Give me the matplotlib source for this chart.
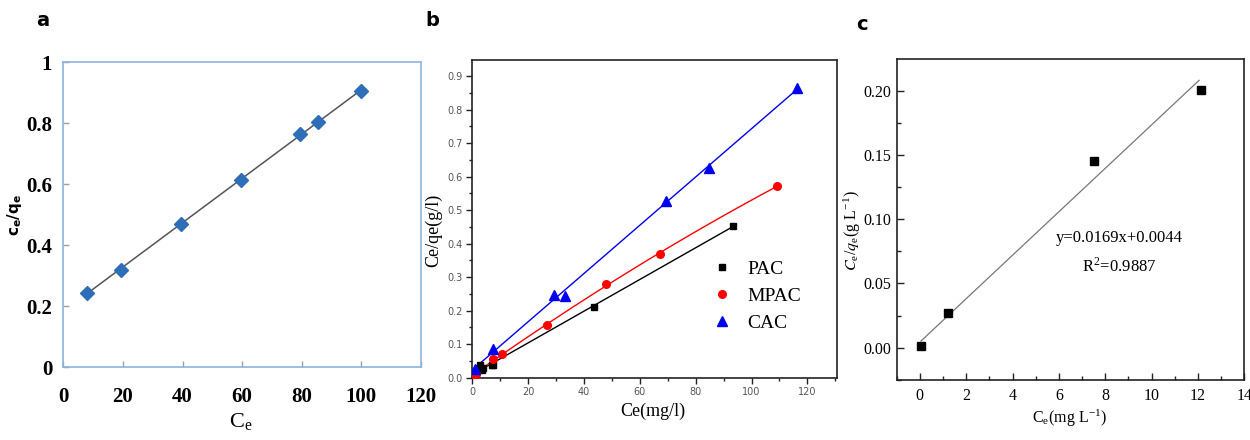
import numpy as np
import matplotlib
matplotlib.use("Agg")
import matplotlib.pyplot as plt
from matplotlib.lines import Line2D
from matplotlib.ticker import MultipleLocator, FormatStrFormatter

plt.rcParams["mathtext.fontset"] = "stix"

# ---------------- data ----------------
# panel a
a_ce = [8, 19.5, 39.5, 59.5, 79.5, 85.5, 100]
a_ratio = [0.245, 0.32, 0.47, 0.615, 0.765, 0.805, 0.905]
a_xticks = [0, 20, 40, 60, 80, 100, 120]
a_yticks = [0, 0.2, 0.4, 0.6, 0.8, 1.0]
a_yticklabels = ["0", "0.2", "0.4", "0.6", "0.8", "1"]

# panel b
b_series = ["PAC", "MPAC", "CAC"]
b_pac_x = [1.2, 2.8, 3.4, 4.0, 7.0, 7.6, 43.7, 93.5]
b_pac_y = [0.015, 0.038, 0.023, 0.028, 0.038, 0.038, 0.212, 0.454]
b_mpac_x = [0.4, 1.5, 7.5, 10.8, 26.7, 47.8, 67.3, 109.1]
b_mpac_y = [0.008, 0.012, 0.057, 0.071, 0.157, 0.279, 0.368, 0.572]
b_cac_x = [1.0, 7.5, 29.4, 33.2, 69.3, 84.6, 116.3]
b_cac_y = [0.026, 0.085, 0.246, 0.245, 0.527, 0.625, 0.864]
b_xticks = [0, 20, 40, 60, 80, 100, 120]
b_yticks = [0.0, 0.1, 0.2, 0.3, 0.4, 0.5, 0.6, 0.7, 0.8, 0.9]

# panel c
c_ce = [0.03, 1.23, 7.52, 12.12]
c_ratio = [0.0015, 0.0268, 0.145, 0.2005]
c_fit_slope = 0.0169
c_fit_intercept = 0.0044
c_fit_text = ["y=0.0169x+0.0044", "R$^\\mathregular{2}$=0.9887"]
c_xticks = [0, 2, 4, 6, 8, 10, 12, 14]
c_yticks = [0.00, 0.05, 0.10, 0.15, 0.20]

# ---------------- figure ----------------
W, H = 1250, 440
fig = plt.figure(figsize=(W / 100, H / 100), dpi=100)
SERIF = ["Liberation Serif", "DejaVu Serif"]


def fx(px):
    return px / W


def fy(py):
    return 1 - py / H


def add_axes(l, t, r, b):
    return fig.add_axes([fx(l), fy(b), fx(r) - fx(l), fy(t) - fy(b)])


# ---- panel a ----
axa = add_axes(63.3, 62, 421, 367.3)
axa.set_xlim(0, 120)
axa.set_ylim(0, 1)
for s in axa.spines.values():
    s.set_color("#8DB3E2")
    s.set_linewidth(1.2)
axa.set_xticks(a_xticks)
axa.set_yticks(a_yticks)
axa.set_yticklabels(a_yticklabels)
axa.tick_params(direction="in", length=4, color="#A0A0A0", width=1)
axa.tick_params(axis="x", pad=14)
axa.tick_params(axis="y", pad=8)
for lab in axa.get_xticklabels() + axa.get_yticklabels():
    lab.set_fontfamily(SERIF)
    lab.set_fontsize(15)
    lab.set_fontweight("bold")
pa = np.polyfit(a_ce, a_ratio, 1)
xa = np.array([min(a_ce), max(a_ce)])
axa.plot(xa, np.polyval(pa, xa), color="#555555", lw=1.1, zorder=2)
axa.plot(a_ce, a_ratio, "D", color="#2E6DB8", ms=7.5, zorder=3)
fig.text(fx(241), fy(421), r"C$_\mathregular{e}$", family=SERIF, fontsize=16,
         ha="center", va="center")
fig.text(fx(14), fy(215), r"$\mathbf{c_e/q_e}$", fontsize=11, rotation=90,
         ha="center", va="center", math_fontfamily="dejavusans")
fig.text(fx(43), fy(21), "a", fontsize=14, fontweight="bold", ha="center", va="center")

# ---- panel b ----
axb = add_axes(471.7, 60, 836.7, 377.7)
axb.set_xlim(-0.2, 130.5)
axb.set_ylim(0, 0.948)
for s in axb.spines.values():
    s.set_color("#222222")
    s.set_linewidth(1.2)
axb.set_xticks(b_xticks)
axb.set_yticks(b_yticks)
axb.yaxis.set_major_formatter(FormatStrFormatter("%.1f"))
axb.xaxis.set_minor_locator(MultipleLocator(10))
axb.yaxis.set_minor_locator(MultipleLocator(0.05))
axb.tick_params(which="major", direction="out", length=4.5, width=1, color="#222222",
                labelsize=7, labelcolor="#555555", pad=2)
axb.tick_params(which="minor", direction="out", length=2.5, width=1, color="#222222")
b_colors = ["black", "#FF0000", "#0000EE"]
b_markers = ["s", "o", "^"]
b_ms = [5, 5.5, 6.5]
b_deg = [1, 2, 1]
b_data = [(b_pac_x, b_pac_y), (b_mpac_x, b_mpac_y), (b_cac_x, b_cac_y)]
for (bx, by), col, mk, ms, dg in zip(b_data, b_colors, b_markers, b_ms, b_deg):
    p = np.polyfit(bx, by, dg)
    xx = np.linspace(0, max(bx), 60)
    axb.plot(xx, np.polyval(p, xx), color=col, lw=1.0, zorder=2)
    axb.plot(bx, by, mk, color=col, ms=ms, zorder=3, linestyle="none")
handles = [Line2D([], [], marker=m, color=c, ms=s, linestyle="none")
           for m, c, s in zip(b_markers, b_colors, b_ms)]
axb.legend(handles, b_series, loc="upper left",
           bbox_to_anchor=(fx(712), fy(260)), bbox_transform=fig.transFigure,
           frameon=False, borderaxespad=0, borderpad=0, handlelength=1.0,
           handletextpad=0.8, labelspacing=0.5,
           prop={"family": SERIF, "size": 14})
fig.text(fx(653), fy(411), "Ce(mg/l)", family=SERIF, fontsize=13, ha="center", va="center")
fig.text(fx(434), fy(230), "Ce/qe(g/l)", family=SERIF, fontsize=13, rotation=90,
         ha="center", va="center")
fig.text(fx(432), fy(21), "b", fontsize=14, fontweight="bold", ha="center", va="center")

# ---- panel c ----
axc = add_axes(896.7, 59.3, 1244.3, 380)
axc.set_xlim(-1, 14)
axc.set_ylim(-0.0251, 0.2244)
for s in axc.spines.values():
    s.set_color("#222222")
    s.set_linewidth(1.2)
axc.set_xticks(c_xticks)
axc.set_yticks(c_yticks)
axc.yaxis.set_major_formatter(FormatStrFormatter("%.2f"))
axc.xaxis.set_minor_locator(MultipleLocator(1))
axc.yaxis.set_minor_locator(MultipleLocator(0.025))
axc.tick_params(which="major", direction="in", length=5, width=1, color="#222222", pad=4)
axc.tick_params(axis="x", which="major", pad=6)
axc.tick_params(which="minor", direction="in", length=3, width=1, color="#222222")
for lab in axc.get_xticklabels() + axc.get_yticklabels():
    lab.set_fontfamily(SERIF)
    lab.set_fontsize(11.5)
xc = np.array([0.05, 12.05])
axc.plot(xc, c_fit_slope * xc + c_fit_intercept, color="#777777", lw=0.9, zorder=2)
axc.plot(c_ce, c_ratio, "s", color="black", ms=5.5, zorder=3)
fig.text(fx(1119), fy(238), c_fit_text[0], family=SERIF, fontsize=12, ha="center", va="center")
fig.text(fx(1119), fy(266), c_fit_text[1], family=SERIF, fontsize=12, ha="center", va="center")
fig.text(fx(1070), fy(418), r"C$_\mathregular{e}$(mg L$^{\mathregular{-1}}$)", family=SERIF,
         fontsize=11.5, ha="center", va="center")
fig.text(fx(852), fy(230),
         r"$C_\mathregular{e}$/$q_\mathregular{e}$(g L$^{\mathregular{-1}}$)",
         family=SERIF, fontsize=11.5, rotation=90, ha="center", va="center")
fig.text(fx(862), fy(25), "c", fontsize=14, fontweight="bold", ha="center", va="center")

fig.savefig("out.png", dpi=100)
